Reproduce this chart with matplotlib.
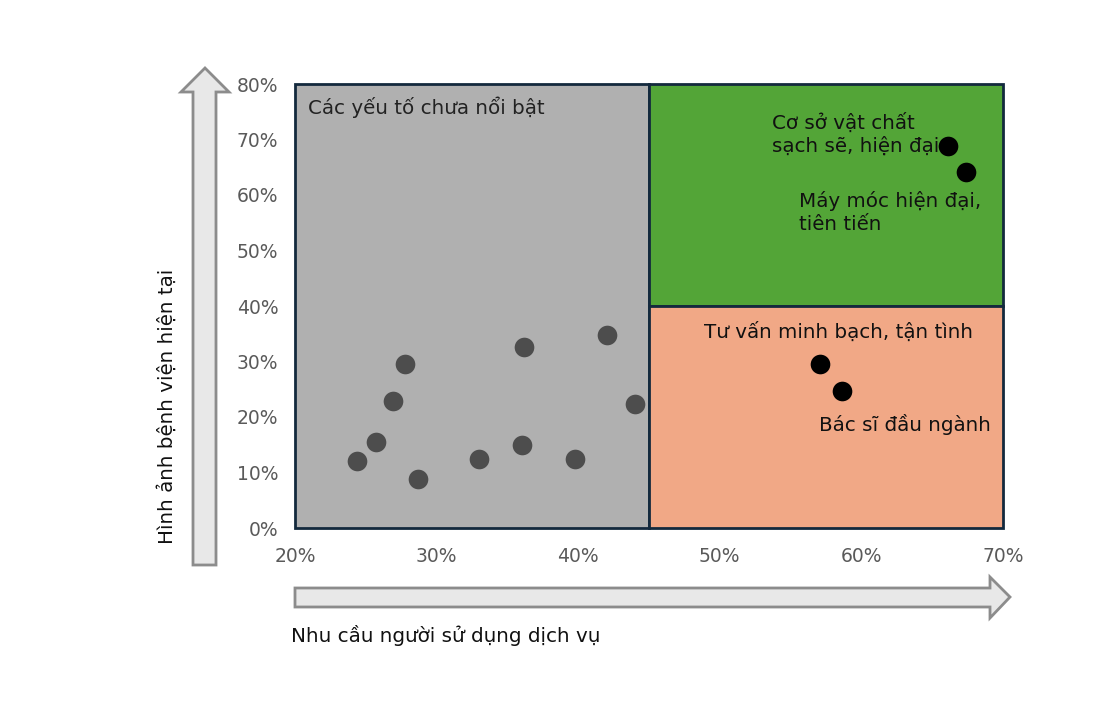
import matplotlib
matplotlib.use("Agg")
import matplotlib.pyplot as plt
from matplotlib.patches import Rectangle, Polygon
from matplotlib.transforms import IdentityTransform
from matplotlib.ticker import FuncFormatter

plt.rcParams['font.family'] = ['DejaVu Sans']

# ---- data ----
gray_x = [24.4, 25.7, 26.9, 27.8, 28.7, 33.0, 36.0, 36.2, 39.8, 42.0, 44.0]
gray_y = [12.0, 15.5, 22.9, 29.5, 8.9, 12.5, 15.0, 32.7, 12.5, 34.7, 22.3]
key_labels = ["Cơ sở vật chất\nsạch sẽ, hiện đại", "Máy móc hiện đại,\ntiên tiến",
              "Tư vấn minh bạch, tận tình", "Bác sĩ đầu ngành"]
key_x = [66.1, 67.4, 57.1, 58.6]
key_y = [68.8, 64.1, 29.5, 24.7]
x_ticks = [20, 30, 40, 50, 60, 70]
y_ticks = [0, 10, 20, 30, 40, 50, 60, 70, 80]
x_split, y_split = 45, 40
x_title = "Nhu cầu người sử dụng dịch vụ"
y_title = "Hình ảnh bệnh viện hiện tại"
gray_title = "Các yếu tố chưa nổi bật"

W, H = 1109, 706
fig = plt.figure(figsize=(W / 100, H / 100), dpi=100)
ax = fig.add_axes([295 / W, 1 - 528 / H, (1003 - 295) / W, (528 - 84) / H])
ax.set_xlim(20, 70)
ax.set_ylim(0, 80)

edge = "#13293d"
ax.add_patch(Rectangle((20, 0), x_split - 20, 80, facecolor="#b0b0b0", edgecolor=edge, lw=2, zorder=1, clip_on=False))
ax.add_patch(Rectangle((x_split, y_split), 70 - x_split, 80 - y_split, facecolor="#53a537", edgecolor=edge, lw=2, zorder=1, clip_on=False))
ax.add_patch(Rectangle((x_split, 0), 70 - x_split, y_split, facecolor="#f1a886", edgecolor=edge, lw=2, zorder=1, clip_on=False))

ax.scatter(gray_x, gray_y, s=200, color="#4d4d4d", zorder=3, linewidths=0)
ax.scatter(key_x, key_y, s=200, color="black", zorder=3, linewidths=0)

fs = 14.3
ax.text(20.95, 77.7, gray_title, fontsize=fs, color="#222222", va="top", ha="left")
ax.text(53.7, 67.0, key_labels[0], fontsize=fs, ha="left", va="bottom", color="#111111", linespacing=1.3)
ax.text(55.6, 60.8, key_labels[1], fontsize=fs, ha="left", va="top", color="#111111", linespacing=1.3)
ax.text(58.35, 35.3, key_labels[2], fontsize=fs, ha="center", va="center", color="#111111")
ax.text(57.0, 18.7, key_labels[3], fontsize=fs, ha="left", va="center", color="#111111")

ax.set_xticks(x_ticks)
ax.set_yticks(y_ticks)
ax.xaxis.set_major_formatter(FuncFormatter(lambda v, p: f"{v:.0f}%"))
ax.yaxis.set_major_formatter(FuncFormatter(lambda v, p: f"{v:.0f}%"))
ax.tick_params(length=0, labelsize=13.5, colors="#5a5a5a")
ax.tick_params(axis="x", pad=14)
ax.tick_params(axis="y", pad=12)
for s in ax.spines.values():
    s.set_visible(False)

def px(pts):
    return [(x, H - y) for x, y in pts]

arrow_kw = dict(facecolor="#e8e8e8", edgecolor="#8c8c8c", lw=2, transform=IdentityTransform())
yarrow = px([(193, 565), (216, 565), (216, 92), (229, 92), (205, 68), (181, 92), (193, 92)])
fig.add_artist(Polygon(yarrow, closed=True, **arrow_kw))
xarrow = px([(295, 588), (990, 588), (990, 577), (1010, 597), (990, 618), (990, 607), (295, 607)])
fig.add_artist(Polygon(xarrow, closed=True, **arrow_kw))

fig.text(167 / W, 1 - 406 / H, y_title, rotation=90, fontsize=fs, ha="center", va="center", color="#111111")
fig.text(291 / W, 1 - 635 / H, x_title, fontsize=fs, ha="left", va="center", color="#111111")

fig.savefig("out.png", dpi=100)
